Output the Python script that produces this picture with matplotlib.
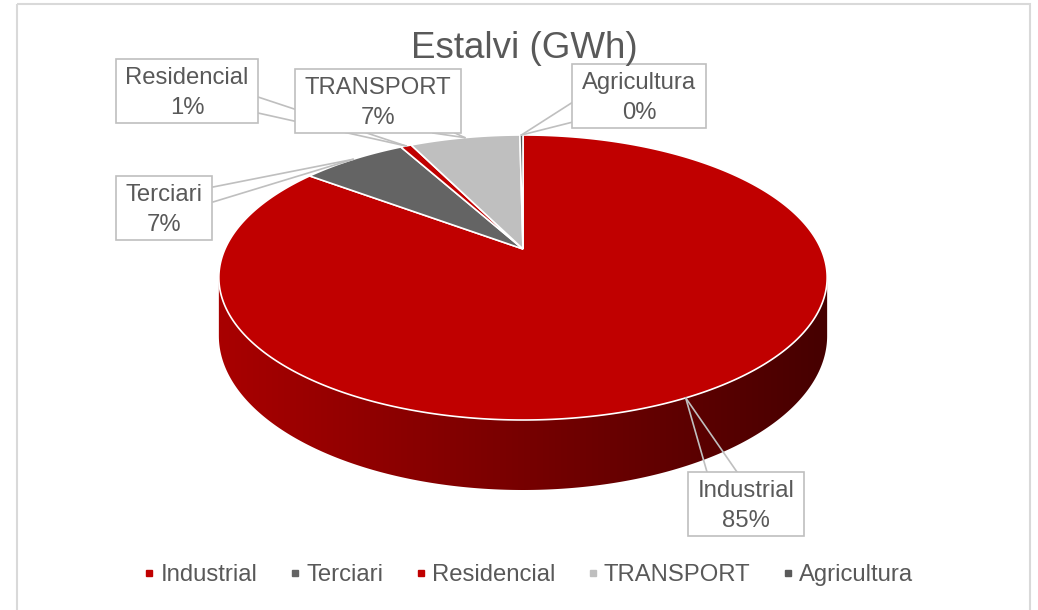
import numpy as np
import matplotlib
matplotlib.use("Agg")
import matplotlib.pyplot as plt
from matplotlib.patches import Polygon, Rectangle
from matplotlib.lines import Line2D
from matplotlib.colors import to_rgb

plt.rcParams["font.family"] = ["Liberation Sans", "DejaVu Sans"]

# ── Data ──────────────────────────────────────────────────────────────────────

categories = ["Industrial", "Terciari", "Residencial", "TRANSPORT", "Agricultura"]
shares = [85.2, 6.8, 0.7, 7.1, 0.2]
colors = ["#C00000", "#646464", "#C00000", "#BFBFBF", "#5A5A5A"]
title = "Estalvi (GWh)"

# label box centres and where each callout leader meets its box (pixels)
label_pos = [(746, 504), (164, 208), (187, 91), (378, 101), (639, 96)]
leader_base = [
    [(707, 472), (737, 472)],
    [(213, 187), (213, 202)],
    [(258, 97), (258, 113)],
    [(433, 133), (455, 133)],
    [(573, 102), (573, 122)],
]

# ── 3D pie geometry ───────────────────────────────────────────────────────────

CX, CY = 523, 249      # apex of the slices on the top face
A, B = 298, 136.8      # half-axes of the disc before perspective
K = 0.2                # perspective strength (far side shrinks)
DEPTH = 56             # thickness of the disc
TEXT = "#595959"
FS = 17.2
BOX_H = 64


def project(theta, drop=0.0):
    """Point on the rim at angle theta (clockwise from 12 o'clock)."""
    u, v = np.sin(theta), np.cos(theta)
    d = 1 + K * v
    return CX + A * u / d, CY - B * v / d + drop / d


def side_shade(x):
    # side wall gets darker from left to right
    t = np.clip((x - 222) / (826 - 222), 0, 1)
    return 0.875 - 0.51 * t


fig = plt.figure(figsize=(10.38, 6.10), dpi=100)
ax = fig.add_axes([0, 0, 1, 1])

ax.add_patch(Rectangle((17, 4), 1013, 640, fill=False, ec="#D9D9D9", lw=1.5,
                       zorder=0))

fracs = np.array(shares) / sum(shares)
bounds = np.concatenate([[0], np.cumsum(fracs)]) * 2 * np.pi

# visible part of the side wall lies between the two silhouette angles
th_r = np.arccos(-K)
th_l = 2 * np.pi - th_r
gx = np.linspace(200, 850, 651)
for i, c in enumerate(colors):
    lo, hi = max(bounds[i], th_r), min(bounds[i + 1], th_l)
    if hi <= lo:
        continue
    th = np.linspace(lo, hi, 400)
    top = [project(t) for t in th]
    bot = [project(t, DEPTH) for t in th[::-1]]
    wall = Polygon(top + bot, closed=True, fc="none", ec="none")
    ax.add_patch(wall)
    grad = np.array(to_rgb(c))[None, None, :] * side_shade(gx)[None, :, None]
    img = ax.imshow(grad, extent=(gx[0], gx[-1], 520, 120), aspect="auto",
                    interpolation="bilinear", zorder=1)
    img.set_clip_path(wall)

# top face
for i, c in enumerate(colors):
    th = np.linspace(bounds[i], bounds[i + 1], max(3, int(fracs[i] * 720)))
    rim = [project(t) for t in th]
    ax.add_patch(Polygon([(CX, CY)] + rim, closed=True, fc=c, ec="white",
                         lw=1.2, joinstyle="miter", zorder=2))

ax.set_xlim(0, 1038)
ax.set_ylim(610, 0)
ax.axis("off")

# ── Callouts ──────────────────────────────────────────────────────────────────

texts = []
for i, name in enumerate(categories):
    mid = (bounds[i] + bounds[i + 1]) / 2
    anchor = project(mid)
    for bx, by in leader_base[i]:
        ax.plot([bx, anchor[0]], [by, anchor[1]], color="#BFBFBF", lw=1.2,
                zorder=3)
    pct = f"{round(shares[i] / sum(shares) * 100)}%"
    cx, cy = label_pos[i]
    texts.append(ax.text(cx, cy + 2, f"{name}\n{pct}", ha="center",
                         va="center", fontsize=FS, color=TEXT, zorder=5,
                         linespacing=1.42))

fig.canvas.draw()
inv = ax.transData.inverted()
for t, (cx, cy) in zip(texts, label_pos):
    bb = t.get_window_extent()
    (x0, _), (x1, _) = inv.transform([(bb.x0, bb.y0), (bb.x1, bb.y1)])
    x0, x1 = min(x0, x1) - 9.5, max(x0, x1) + 9.5
    ax.add_patch(Rectangle((x0, cy - BOX_H / 2), x1 - x0, BOX_H, fc="white",
                           ec="#BFBFBF", lw=1.2, zorder=4))

ax.text(524, 58, title, ha="center", va="baseline", fontsize=26.5,
        color=TEXT, zorder=5)

handles = [Line2D([], [], marker="s", ls="none", color=c, markersize=5)
           for c in colors]
ax.legend(handles, categories, loc="center",
          bbox_to_anchor=(529 / 1038, 1 - 575 / 610),
          ncol=5, frameon=False, fontsize=FS, labelcolor=TEXT,
          handlelength=0.4, handletextpad=0.26, columnspacing=1.38)

fig.savefig("out.png", dpi=100)
